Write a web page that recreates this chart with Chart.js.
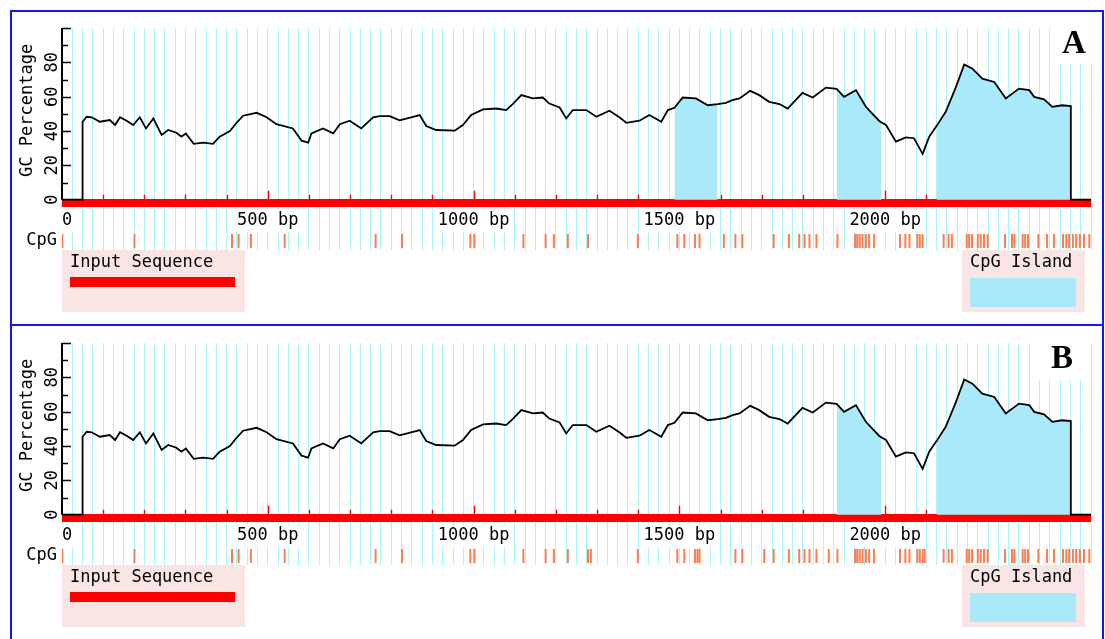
<!DOCTYPE html>
<html>
<head>
<meta charset="utf-8">
<title>GC content and CpG islands</title>
<script src="https://cdn.jsdelivr.net/npm/chart.js@4.4.1/dist/chart.umd.min.js"></script>
<style>
  html, body { margin: 0; padding: 0; background: #ffffff; }
  #page { position: relative; width: 1105px; height: 639px; overflow: hidden; background: #ffffff; }
  #page canvas { position: absolute; left: 0; }
  .rule { position: absolute; background: #1414f5; }
</style>
</head>
<body>
<div id="page">
  <canvas id="panelA" width="1105" height="315" style="top:0px"></canvas>
  <canvas id="panelB" width="1105" height="315" style="top:315px"></canvas>
  <div class="rule" style="left:10px;top:10px;width:1094px;height:2px"></div>
  <div class="rule" style="left:10px;top:10px;width:2px;height:640px"></div>
  <div class="rule" style="left:1102px;top:10px;width:2px;height:640px"></div>
  <div class="rule" style="left:10px;top:324px;width:1094px;height:2px"></div>
</div>
<script>
// Sequence length (bp)
const seqLength = 2500;

// Sliding-window GC percentage along the sequence
const gcPosition = [0,50,50,60,72,92,116,129,141,157,173,189,204,222,242,258,278,290,301,320,343,367,383,408,424,440,473,497,521,561,582,598,606,634,659,675,699,727,756,772,796,820,853,869,885,909,954,974,994,1023,1055,1079,1095,1116,1144,1168,1184,1209,1225,1241,1274,1298,1330,1354,1371,1403,1427,1456,1472,1488,1508,1540,1569,1593,1613,1629,1646,1672,1694,1718,1743,1763,1799,1824,1856,1882,1900,1929,1953,1985,1991,2002,2026,2050,2070,2091,2107,2125,2147,2172,2192,2212,2236,2265,2293,2325,2350,2362,2386,2406,2430,2451,2451,2500];
const gcPercent = [0,0,45.4,48.3,48,45.4,46.4,43.5,48,46,43.5,48,41.5,47.3,37.7,40.6,39,36.7,38.6,32.5,33.2,32.5,36.7,40,44.8,48.9,50.6,48,44,41.5,34.4,33.2,38.6,41.5,38.6,44,46,41.5,48,48.7,48.7,46.2,48.3,49.3,42.9,40.6,40.2,43.5,49.3,52.6,53.1,52.2,55.7,60.9,59,59.5,56,53.7,47.3,52.2,52.2,48.3,51.8,48,44.8,46,49.3,45.4,52.2,53.5,59.5,59,55,55.7,56.4,58,59,63.4,60.9,57,55.7,53.1,62.2,59.5,65.3,64.5,59.9,63.8,54.1,46,45,43.5,33.8,36.3,35.8,26.7,36.7,43,51.2,65.7,78.8,76.3,70.5,68.6,59,64.7,63.8,59.9,58.4,54.1,55,54.5,0,0];

// Predicted CpG islands (start / end, bp)
const islandStartsA = [1488, 1882, 2125];
const islandEndsA   = [1593, 1991, 2451];
const islandStartsB = [1882, 2125];
const islandEndsB   = [1991, 2451];

// CpG dinucleotide positions (bp)
const cpgSitesA = [1,176,413,429,459,541,762,826,992,1002,1121,1175,1195,1229,1278,1399,1495,1512,1538,1549,1608,1636,1653,1729,1766,1791,1804,1816,1833,1884,1927,1932,1938,1945,1953,1961,1973,2036,2049,2059,2078,2084,2091,2142,2154,2162,2198,2204,2211,2225,2232,2240,2249,2291,2308,2314,2334,2340,2347,2372,2393,2410,2432,2440,2447,2456,2464,2473,2483,2496];
const cpgSitesB = [1,176,413,429,459,541,762,826,992,1002,1121,1175,1195,1229,1278,1285,1399,1495,1512,1538,1544,1549,1636,1653,1706,1729,1766,1791,1804,1816,1833,1863,1884,1927,1932,1938,1945,1953,1961,1973,2036,2049,2059,2078,2084,2091,2096,2142,2154,2162,2198,2204,2211,2225,2232,2240,2249,2291,2308,2314,2334,2340,2347,2372,2393,2410,2432,2440,2447,2456,2464,2473,2483,2496];

// Axis labels
const xTickLabels = [0, 500, 1000, 1500, 2000];
const yTickLabels = [0, 20, 40, 60, 80];

// Styling constants
const MONO = '"DejaVu Sans Mono", "Liberation Mono", monospace';
const GRID_COLOR = '#a8f8fa';
const ISLAND_COLOR = '#a9e9f9';
const CPG_COLOR = '#ff7c50';
const LEGEND_BG = '#f9e6e4';
const Y_MIN = -29.3;      // room below the baseline for tick labels and the CpG track
const CPG_TRACK_Y = -24.05;
const GRID_STEP = 25;

const gcPoints = gcPosition.map((x, i) => ({ x: x, y: gcPercent[i] }));

function islandSets(starts, ends) {
  return starts.map((s, k) => ({
    type: 'line',
    data: gcPoints.filter(p => p.x >= s && p.x <= ends[k]),
    borderWidth: 0,
    pointRadius: 0,
    backgroundColor: ISLAND_COLOR,
    fill: 'origin',
    order: 3
  }));
}

const panelDecor = {
  id: 'panelDecor',
  beforeDatasetsDraw(chart) {
    const { ctx, scales: { x, y } } = chart;
    const y0 = y.getPixelForValue(0);
    const x0 = x.getPixelForValue(0);
    const x1 = x.getPixelForValue(seqLength);
    ctx.save();
    ctx.fillStyle = '#ff0000';
    ctx.fillRect(x0, y0 - 0.7, x1 - x0, 8);
    ctx.strokeStyle = '#ff0000';
    ctx.lineWidth = 1.4;
    for (let bp = 100; bp < seqLength; bp += 100) {
      const px = Math.round(x.getPixelForValue(bp)) + 0.5;
      const len = bp % 500 === 0 ? 9 : 5;
      ctx.beginPath();
      ctx.moveTo(px, y0);
      ctx.lineTo(px, y0 - len);
      ctx.stroke();
    }
    ctx.restore();
  },
  afterDatasetsDraw(chart) {
    const { ctx, scales: { x, y } } = chart;
    const ax = x.getPixelForValue(0);
    ctx.save();
    // y axis line with inward ticks
    ctx.strokeStyle = '#000000';
    ctx.lineWidth = 2;
    ctx.beginPath();
    ctx.moveTo(ax, y.getPixelForValue(0));
    ctx.lineTo(ax, y.getPixelForValue(100));
    ctx.stroke();
    ctx.lineWidth = 1.5;
    for (let v = 10; v <= 100; v += 10) {
      const py = Math.round(y.getPixelForValue(v)) + 0.5;
      const len = v % 20 === 0 ? 9 : 6;
      ctx.beginPath();
      ctx.moveTo(ax, py);
      ctx.lineTo(ax + len, py);
      ctx.stroke();
    }
    // rotated tick labels
    ctx.fillStyle = '#000000';
    ctx.font = '17px ' + MONO;
    ctx.textAlign = 'center';
    ctx.textBaseline = 'middle';
    yTickLabels.forEach(v => {
      ctx.save();
      ctx.translate(ax - 9.5, y.getPixelForValue(v));
      ctx.rotate(-Math.PI / 2);
      ctx.fillText(String(v), 0, 0);
      ctx.restore();
    });
    // axis title
    ctx.save();
    ctx.translate(ax - 34, y.getPixelForValue(52));
    ctx.rotate(-Math.PI / 2);
    ctx.fillText('GC Percentage', 0, 0);
    ctx.restore();
    ctx.restore();
  },
  afterDraw(chart, args, opts) {
    const { ctx, scales: { x, y } } = chart;
    ctx.save();
    ctx.font = '17px ' + MONO;
    ctx.fillStyle = '#000000';
    ctx.textBaseline = 'middle';
    ctx.textAlign = 'right';
    ctx.fillText('CpG', x.getPixelForValue(0) - 5, y.getPixelForValue(CPG_TRACK_Y));

    // legend: input sequence
    const top = chart.chartArea.bottom;
    ctx.fillStyle = LEGEND_BG;
    ctx.fillRect(62, top, 183, 62);
    ctx.fillStyle = '#000000';
    ctx.textAlign = 'left';
    ctx.fillText('Input Sequence', 70, top + 13);
    ctx.fillStyle = '#ff0000';
    ctx.fillRect(70, top + 27, 165, 10);

    // legend: CpG island
    ctx.fillStyle = LEGEND_BG;
    ctx.fillRect(962, top, 123, 62);
    ctx.fillStyle = '#000000';
    ctx.fillText('CpG Island', 970, top + 13);
    ctx.fillStyle = ISLAND_COLOR;
    ctx.fillRect(970, top + 28, 106, 29);

    // panel letter
    const b = opts.letterBox;
    ctx.fillStyle = '#ffffff';
    ctx.fillRect(b[0], b[1], b[2], b[3]);
    ctx.fillStyle = '#000000';
    ctx.font = 'bold 33px "Liberation Serif", "DejaVu Serif", serif';
    ctx.textBaseline = 'alphabetic';
    ctx.fillText(opts.letter, opts.letterX, 53);
    ctx.restore();
  }
};

function makePanel(canvasId, islandStarts, islandEnds, cpgSites, letter, letterX, letterBox) {
  return new Chart(document.getElementById(canvasId), {
    data: {
      datasets: [
        {
          type: 'line',
          data: gcPoints,
          borderColor: '#000000',
          borderWidth: 1.8,
          pointRadius: 0,
          fill: false,
          tension: 0,
          order: 0
        },
        {
          type: 'scatter',
          data: cpgSites.map(s => ({ x: s, y: CPG_TRACK_Y })),
          pointStyle: 'line',
          pointRotation: 90,
          pointRadius: 7,
          pointBorderWidth: 2,
          pointBorderColor: CPG_COLOR,
          pointBackgroundColor: CPG_COLOR,
          order: 1
        },
        ...islandSets(islandStarts, islandEnds)
      ]
    },
    options: {
      responsive: false,
      animation: false,
      events: [],
      devicePixelRatio: 1,
      layout: { padding: { left: 62, right: 14, top: 28, bottom: 65 } },
      scales: {
        x: {
          type: 'linear',
          position: { y: 0 },
          min: 0,
          max: seqLength,
          border: { display: false },
          grid: {
            drawTicks: false,
            lineWidth: 1,
            color: ctx => (ctx.tick && ctx.tick.value === 0) ? 'rgba(0,0,0,0)' : GRID_COLOR
          },
          afterBuildTicks: scale => {
            const t = [];
            for (let v = 0; v <= seqLength; v += GRID_STEP) t.push({ value: v });
            scale.ticks = t;
          },
          ticks: {
            autoSkip: false,
            maxRotation: 0,
            minRotation: 0,
            align: 'inner',
            padding: 11,
            color: '#000000',
            font: { family: MONO, size: 17 },
            showLabelBackdrop: ctx => xTickLabels.includes(ctx.tick.value),
            backdropColor: '#ffffff',
            backdropPadding: 1,
            callback: v => xTickLabels.includes(v) ? (v === 0 ? '0' : v + ' bp') : ''
          }
        },
        y: {
          type: 'linear',
          display: false,
          min: Y_MIN,
          max: 100
        }
      },
      plugins: {
        legend: { display: false },
        tooltip: { enabled: false },
        panelDecor: { letter: letter, letterX: letterX, letterBox: letterBox }
      }
    },
    plugins: [panelDecor]
  });
}

makePanel('panelA', islandStartsA, islandEndsA, cpgSitesA, 'A', 1062, [1056, 27, 38, 37]);
makePanel('panelB', islandStartsB, islandEndsB, cpgSitesB, 'B', 1051, [1036, 28, 48, 37]);
</script>
</body>
</html>
